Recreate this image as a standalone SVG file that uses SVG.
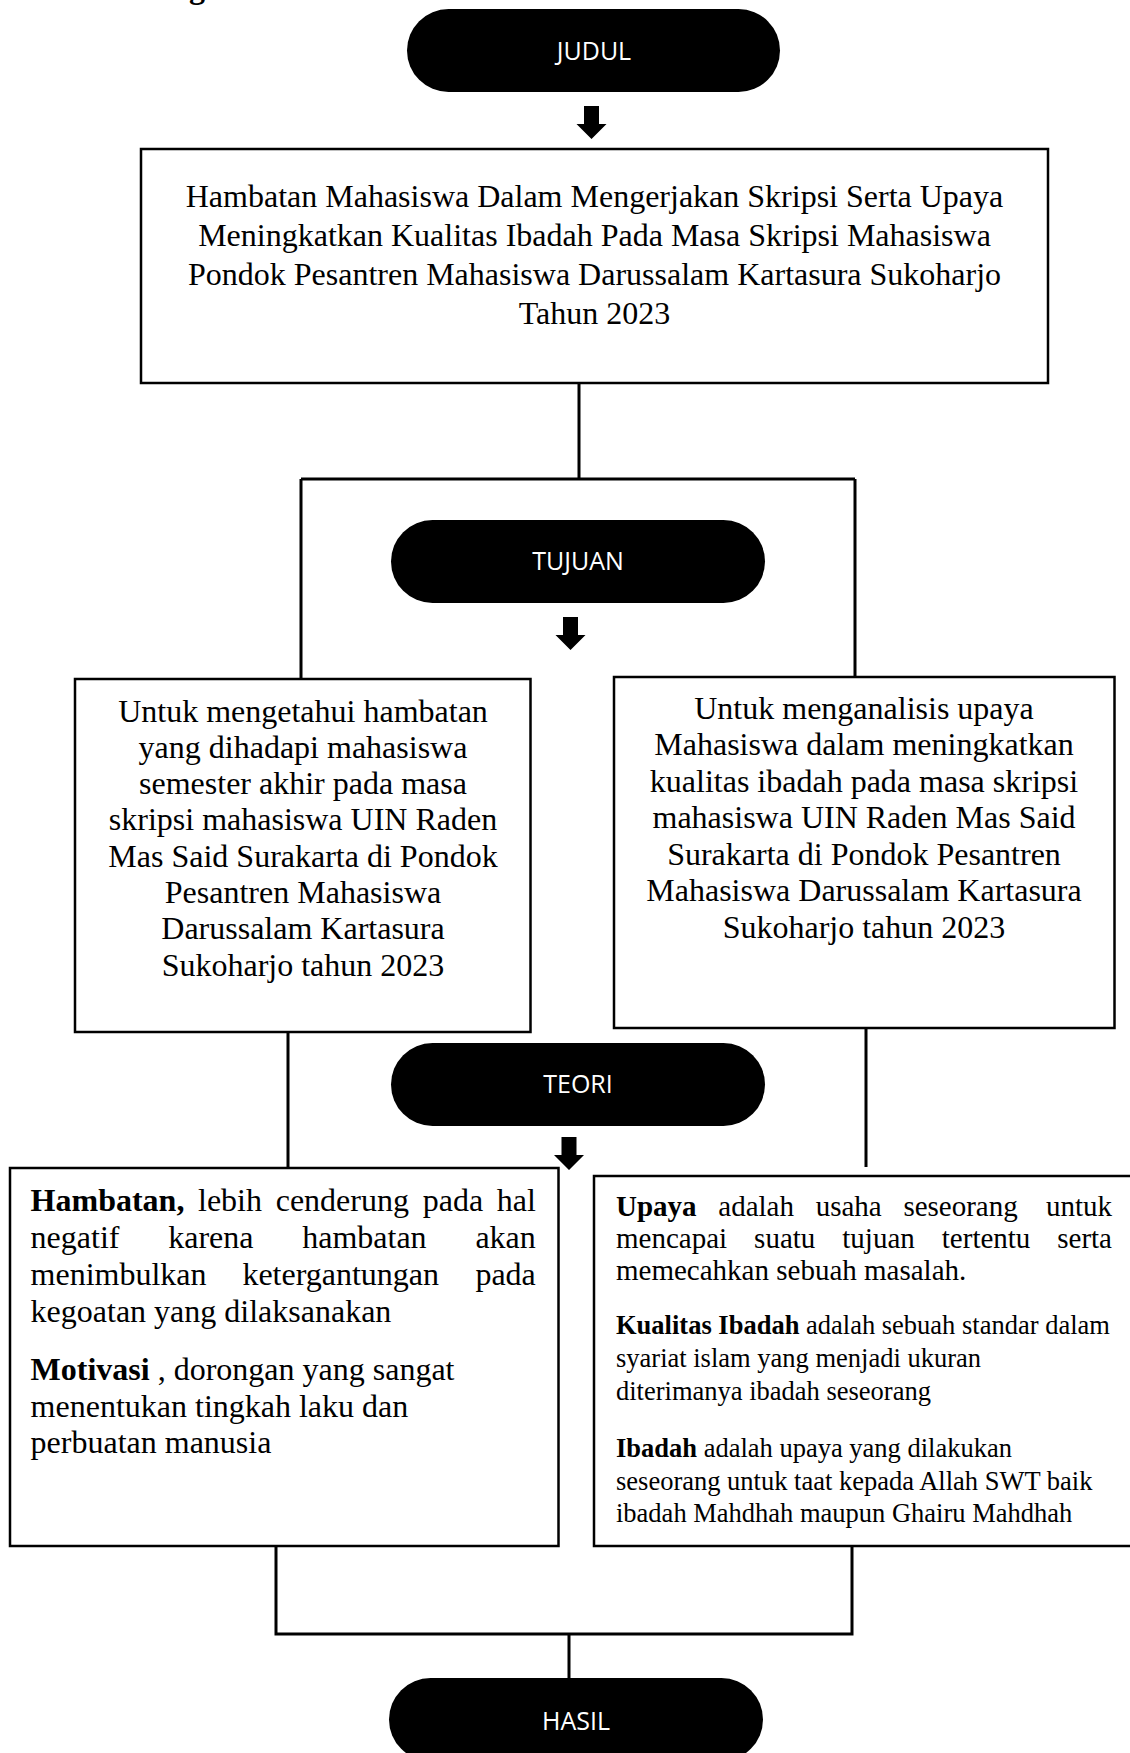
<svg xmlns="http://www.w3.org/2000/svg" width="1130" height="1753" viewBox="0 0 1130 1753">
<style>
.pill{fill:#000}
.pt{font-family:"Open Sans","Liberation Sans",sans-serif;font-size:25px;fill:#fff;text-anchor:middle}
.box{fill:#fff;stroke:#000;stroke-width:2.5}
.ser{font-family:"Liberation Serif","Times New Roman",serif;fill:#000}
.c32{font-size:32px}
.c28{font-size:29px}
.c26{font-size:26.5px}
.mid{text-anchor:middle}
.end{text-anchor:end}
.b{font-weight:bold}
.ln{stroke:#000;stroke-width:3;fill:none}
.arw{fill:#000}
</style>
<rect width="1130" height="1753" fill="#fff"/>
<text class="ser b" x="189" y="-2" font-size="32">g</text>

<g id="connectors">
<path class="ln" d="M579 383 V479 M301 479 H855 M301 479 V679 M855 479 V680"/>
<path class="ln" d="M288 1032 V1168 M866 1028 V1167"/>
<path class="ln" d="M276 1546 V1634 H852 V1546 M569 1634 V1678"/>
<path class="arw" d="M584 106 H599 V124 H606.5 L591.5 139 L576.5 124 H584 Z"/>
<path class="arw" d="M563 617 H578 V635 H585.5 L570.5 650 L555.5 635 H563 Z"/>
<path class="arw" d="M561.5 1137 H576.5 V1155 H584 L569 1170 L554 1155 H561.5 Z"/>
</g>

<g id="judul">
<rect class="pill" x="407" y="9" width="373" height="83" rx="41.5"/>
<text class="pt" x="594" y="60">JUDUL</text>
</g>

<g id="title">
<rect class="box" x="141" y="149" width="907" height="234"/>
<text class="ser c32 mid" x="594.5" y="207">Hambatan Mahasiswa Dalam Mengerjakan Skripsi Serta Upaya</text>
<text class="ser c32 mid" x="594.5" y="246">Meningkatkan Kualitas Ibadah Pada Masa Skripsi Mahasiswa</text>
<text class="ser c32 mid" x="594.5" y="285">Pondok Pesantren Mahasiswa Darussalam Kartasura Sukoharjo</text>
<text class="ser c32 mid" x="594.5" y="324">Tahun 2023</text>
</g>

<g id="tujuan">
<rect class="pill" x="391" y="520" width="374" height="83" rx="41.5"/>
<text class="pt" x="578" y="570">TUJUAN</text>
</g>

<g id="tujuan-left">
<rect class="box" x="75" y="679" width="455.5" height="353"/>
<text class="ser c32 mid" x="303" y="721.5">Untuk mengetahui hambatan</text>
<text class="ser c32 mid" x="303" y="757.8">yang dihadapi mahasiswa</text>
<text class="ser c32 mid" x="303" y="794.1">semester akhir pada masa</text>
<text class="ser c32 mid" x="303" y="830.4">skripsi mahasiswa UIN Raden</text>
<text class="ser c32 mid" x="303" y="866.7">Mas Said Surakarta di Pondok</text>
<text class="ser c32 mid" x="303" y="903">Pesantren Mahasiswa</text>
<text class="ser c32 mid" x="303" y="939.3">Darussalam Kartasura</text>
<text class="ser c32 mid" x="303" y="975.6">Sukoharjo tahun 2023</text>
</g>

<g id="tujuan-right">
<rect class="box" x="614" y="677" width="500.5" height="351"/>
<text class="ser c32 mid" x="864" y="718.5">Untuk menganalisis upaya</text>
<text class="ser c32 mid" x="864" y="755">Mahasiswa dalam meningkatkan</text>
<text class="ser c32 mid" x="864" y="791.5">kualitas ibadah pada masa skripsi</text>
<text class="ser c32 mid" x="864" y="828">mahasiswa UIN Raden Mas Said</text>
<text class="ser c32 mid" x="864" y="864.5">Surakarta di Pondok Pesantren</text>
<text class="ser c32 mid" x="864" y="901">Mahasiswa Darussalam Kartasura</text>
<text class="ser c32 mid" x="864" y="937.5">Sukoharjo tahun 2023</text>
</g>

<g id="teori">
<rect class="pill" x="391" y="1043" width="374" height="83" rx="41.5"/>
<text class="pt" x="578" y="1093">TEORI</text>
</g>

<g id="teori-left">
<rect class="box" x="10" y="1168" width="548.5" height="378"/>
<text class="ser c32 b" x="30.6" y="1211">Hambatan,</text>
<text class="ser c32" x="198" y="1211">lebih</text>
<text class="ser c32" x="275.7" y="1211">cenderung</text>
<text class="ser c32" x="422.7" y="1211">pada</text>
<text class="ser c32 end" x="535.8" y="1211">hal</text>
<text class="ser c32" x="30.6" y="1248">negatif</text>
<text class="ser c32" x="168.2" y="1248">karena</text>
<text class="ser c32" x="302.2" y="1248">hambatan</text>
<text class="ser c32 end" x="535.8" y="1248">akan</text>
<text class="ser c32" x="30.6" y="1285">menimbulkan</text>
<text class="ser c32" x="242.4" y="1285">ketergantungan</text>
<text class="ser c32 end" x="535.8" y="1285">pada</text>
<text class="ser c32" x="30.6" y="1322">kegoatan yang dilaksanakan</text>
<text class="ser c32" x="30.6" y="1380"><tspan class="b">Motivasi</tspan> , dorongan yang sangat</text>
<text class="ser c32" x="30.6" y="1417">menentukan tingkah laku dan</text>
<text class="ser c32" x="30.6" y="1453">perbuatan manusia</text>
</g>

<g id="teori-right">
<rect class="box" x="594" y="1176" width="541" height="370"/>
<text class="ser c28 b" x="616" y="1216">Upaya</text>
<text class="ser c28" x="718.3" y="1216">adalah</text>
<text class="ser c28" x="815.7" y="1216">usaha</text>
<text class="ser c28" x="903.4" y="1216">seseorang</text>
<text class="ser c28 end" x="1112" y="1216">untuk</text>
<text class="ser c28" x="616" y="1248">mencapai</text>
<text class="ser c28" x="754.1" y="1248">suatu</text>
<text class="ser c28" x="842.3" y="1248">tujuan</text>
<text class="ser c28" x="941.8" y="1248">tertentu</text>
<text class="ser c28 end" x="1112" y="1248">serta</text>
<text class="ser c28" x="616" y="1280">memecahkan sebuah masalah.</text>
<text class="ser c26" x="616" y="1334"><tspan class="b">Kualitas Ibadah</tspan> adalah sebuah standar dalam</text>
<text class="ser c26" x="616" y="1367">syariat islam yang menjadi ukuran</text>
<text class="ser c26" x="616" y="1400">diterimanya ibadah seseorang</text>
<text class="ser c26" x="616" y="1457"><tspan class="b">Ibadah</tspan> adalah upaya yang dilakukan</text>
<text class="ser c26" x="616" y="1490">seseorang untuk taat kepada Allah SWT baik</text>
<text class="ser c26" x="616" y="1522">ibadah Mahdhah maupun Ghairu Mahdhah</text>
</g>

<g id="hasil">
<rect class="pill" x="389" y="1678" width="374" height="83" rx="41.5"/>
<text class="pt" x="576" y="1730">HASIL</text>
</g>
</svg>
